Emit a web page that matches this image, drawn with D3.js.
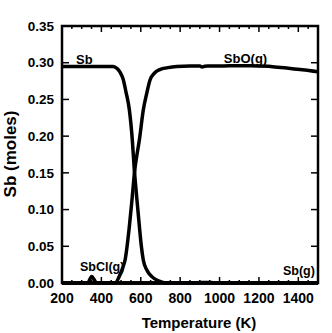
<!DOCTYPE html>
<html>
<head>
<meta charset="utf-8">
<script src="https://cdn.jsdelivr.net/npm/d3@7"></script>
<style>
  body { margin: 0; background: #fff; }
  svg { display: block; font-family: "Liberation Sans", Arial, sans-serif; font-weight: bold; }
</style>
</head>
<body>
<svg id="chart" width="332" height="333"></svg>
<script>
// condensed Sb
const sbT =   [200, 300, 460, 480, 495, 511, 525, 542, 557, 567, 580, 593, 603, 613, 630, 655, 690, 731, 800, 1500];
const sbVal = [0.295, 0.295, 0.295, 0.292, 0.287, 0.277, 0.260, 0.236, 0.195, 0.155, 0.115, 0.077, 0.050, 0.031, 0.018, 0.009, 0.003, 0, 0, 0];

// SbO(g)
const sboT =   [200, 400, 469, 494, 510, 520, 542, 557, 570, 579, 593, 613, 630, 647, 670, 700, 731, 782, 850, 900, 911, 925, 940, 1000, 1100, 1150, 1270, 1350, 1420, 1500];
const sboVal = [0, 0, 0, 0.011, 0.022, 0.031, 0.077, 0.118, 0.155, 0.172, 0.195, 0.236, 0.258, 0.2765, 0.286, 0.291, 0.293, 0.295, 0.2955, 0.2955, 0.2942, 0.2952, 0.2955, 0.2955, 0.296, 0.2958, 0.2946, 0.2925, 0.2905, 0.2877];

// SbCl(g)
const sbclT =   [200, 320, 334, 343, 351, 360, 372, 385, 1500];
const sbclVal = [0, 0, 0.001, 0.006, 0.0088, 0.006, 0.001, 0, 0];

// Sb(g)
const sbgT =   [200, 860, 880, 900, 950, 965, 985, 1500];
const sbgVal = [0, 0, 0.0004, 0.0007, 0.0007, 0.0004, 0, 0.0002];

const xTicks = [200, 400, 600, 800, 1000, 1200, 1400];
const yTicks = [0, 0.05, 0.10, 0.15, 0.20, 0.25, 0.30, 0.35];

const series = [
  { T: sbT, v: sbVal },
  { T: sboT, v: sboVal },
  { T: sbclT, v: sbclVal },
  { T: sbgT, v: sbgVal }
];

const labels = [
  { text: "Sb", T: 271, v: 0.298, size: 13 },
  { text: "SbO(g)", T: 1022, v: 0.2995, size: 13 },
  { text: "SbCl(g)", T: 291, v: 0.0163, size: 12.5 },
  { text: "Sb(g)", T: 1322, v: 0.0109, size: 12.5 }
];

const margin = { top: 26, right: 14, bottom: 50, left: 62 };
const width = 332 - margin.left - margin.right;
const height = 283 - margin.top;

const svg = d3.select("#chart");
const g = svg.append("g").attr("transform", "translate(" + margin.left + "," + margin.top + ")");

const x = d3.scaleLinear().domain([200, 1500]).range([0, width]);
const y = d3.scaleLinear().domain([0, 0.35]).range([height, 0]);

g.append("clipPath").attr("id", "clip")
  .append("rect").attr("x", 0).attr("y", -2).attr("width", width).attr("height", height + 4);

const line = d3.line()
  .curve(d3.curveMonotoneX)
  .x(d => x(d[0]))
  .y(d => y(d[1]));

series.forEach(s => {
  g.append("path")
    .datum(s.T.map((t, i) => [t, s.v[i]]))
    .attr("clip-path", "url(#clip)")
    .attr("fill", "none")
    .attr("stroke", "#000")
    .attr("stroke-width", 3.5)
    .attr("stroke-linejoin", "round")
    .attr("d", line);
});

// minor ticks every 50 K on bottom and top
const minor = d3.range(250, 1500, 50).filter(t => t % 200 !== 0);
const tickG = g.append("g").attr("stroke", "#000").attr("stroke-width", 1.5);
minor.forEach(t => {
  tickG.append("line").attr("x1", x(t)).attr("x2", x(t)).attr("y1", height).attr("y2", height - 3);
  tickG.append("line").attr("x1", x(t)).attr("x2", x(t)).attr("y1", 0).attr("y2", 3);
});
xTicks.forEach(t => {
  tickG.append("line").attr("x1", x(t)).attr("x2", x(t)).attr("y1", height).attr("y2", height - 6);
  tickG.append("line").attr("x1", x(t)).attr("x2", x(t)).attr("y1", 0).attr("y2", 6);
});
yTicks.forEach(v => {
  tickG.append("line").attr("x1", 0).attr("x2", 7).attr("y1", y(v)).attr("y2", y(v));
  tickG.append("line").attr("x1", width).attr("x2", width - 7).attr("y1", y(v)).attr("y2", y(v));
});

// frame
g.append("rect")
  .attr("width", width).attr("height", height)
  .attr("fill", "none").attr("stroke", "#000").attr("stroke-width", 2.5);

// tick labels
g.selectAll(".xl").data(xTicks).enter().append("text")
  .attr("x", d => x(d)).attr("y", height + 20)
  .attr("text-anchor", "middle").attr("font-size", 14)
  .text(d => d);

g.selectAll(".yl").data(yTicks).enter().append("text")
  .attr("x", -8).attr("y", d => y(d)).attr("dy", "0.35em")
  .attr("text-anchor", "end").attr("font-size", 13.5)
  .text(d => d3.format(".2f")(d));

// series labels
labels.forEach(l => {
  g.append("text").attr("x", x(l.T)).attr("y", y(l.v))
    .attr("font-size", l.size).text(l.text);
});

// axis titles
svg.append("text")
  .attr("x", 199).attr("y", 328)
  .attr("text-anchor", "middle").attr("font-size", 15)
  .text("Temperature (K)");

svg.append("text")
  .attr("transform", "translate(16,154) rotate(-90)")
  .attr("text-anchor", "middle").attr("font-size", 17)
  .text("Sb (moles)");
</script>
</body>
</html>
